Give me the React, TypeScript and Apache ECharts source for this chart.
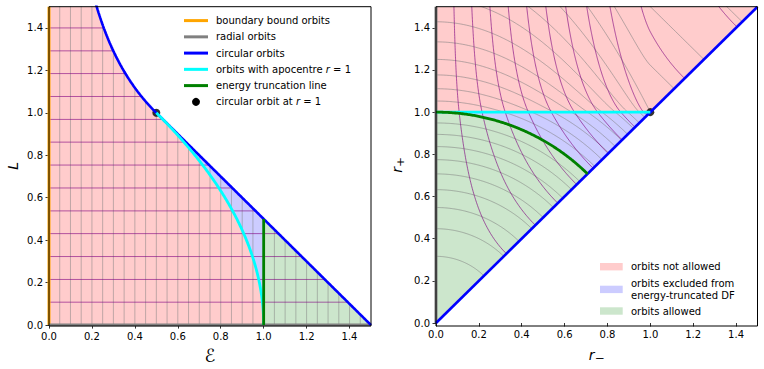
import React, { useEffect, useRef } from "react";
import * as echarts from "echarts";

// ---- data / model parameters ----
const AXIS_TICKS = [0, 0.2, 0.4, 0.6, 0.8, 1.0, 1.2, 1.4];
const AXIS_MAX = 1.5;
const TRUNC_RADIUS = 1; // apocentre limit r = 1
const ENERGY_LEVELS = [
  0.05, 0.1, 0.15, 0.2, 0.25, 0.3, 0.35, 0.4, 0.45, 0.5, 0.55, 0.6, 0.65, 0.7, 0.75,
  0.8, 0.85, 0.9, 0.95, 1.0, 1.05, 1.1, 1.15, 1.2, 1.25, 1.3, 1.35, 1.4, 1.45,
];
const ANGMOM_LEVELS = [
  0.108, 0.215, 0.323, 0.431, 0.538, 0.646, 0.754, 0.862, 0.969, 1.077, 1.185, 1.292, 1.4,
];
const LEFT_LEGEND = [
  { label: "boundary bound orbits", color: "#ffa500", kind: "line" },
  { label: "radial orbits", color: "#808080", kind: "line" },
  { label: "circular orbits", color: "#0000ff", kind: "line" },
  { label: "orbits with apocentre {i|r} = 1", color: "#00ffff", kind: "line" },
  { label: "energy truncation line", color: "#008000", kind: "line" },
  { label: "circular orbit at {i|r} = 1", color: "#000000", kind: "dot" },
];
const RIGHT_LEGEND = [
  { label: ["orbits not allowed"], color: "#ffcccc" },
  { label: ["orbits excluded from", "energy-truncated DF"], color: "#ccccff" },
  { label: ["orbits allowed"], color: "#cce6cc" },
];

// ---- potential: uniform core (r<1) + point-mass exterior ----
const psi = (r: number) => (r < 1 ? 1.5 - 0.5 * r * r : 1 / r);
const feff = (r: number, L: number) => psi(r) - (L * L) / (2 * r * r);
const rCircOfL = (L: number) => (L < 1 ? Math.sqrt(L) : L * L);
const eCircOfR = (r: number) => (r < 1 ? 1.5 - r * r : 0.5 / r);
const lCircOfR = (r: number) => (r < 1 ? r * r : Math.sqrt(r));
const rCircOfE = (E: number) => (E >= 0.5 ? Math.sqrt(1.5 - E) : 0.5 / E);
const lCircOfE = (E: number) => lCircOfR(rCircOfE(E));
const psiInv = (E: number) => (E >= 1 ? Math.sqrt(3 - 2 * E) : 1 / E);
const E_TRUNC = psi(TRUNC_RADIUS);

function bisect(fn: (x: number) => number, a: number, b: number) {
  let fa = fn(a);
  for (let i = 0; i < 80; i++) {
    const m = 0.5 * (a + b);
    const fm = fn(m);
    if ((fm > 0) === (fa > 0)) { a = m; fa = fm; } else { b = m; }
  }
  return 0.5 * (a + b);
}
function turning(E: number, L: number): [number, number] {
  if (L <= 0) return [0, psiInv(E)];
  const rc = rCircOfL(L);
  if (feff(rc, L) <= E) return [rc, rc];
  const rm = bisect((r) => feff(r, L) - E, 1e-9, rc);
  const rp = bisect((r) => feff(r, L) - E, rc, 1e4);
  return [rm, rp];
}
function isoEnergy(E: number, n = 160) {
  const Lc = lCircOfE(E);
  const pts: number[][] = [];
  for (let i = 0; i <= n; i++) {
    const s = 1 - i / n;
    pts.push(turning(E, Lc * (1 - s * s)));
  }
  return pts;
}
function isoAngMom(L: number, n = 200) {
  const rc = rCircOfL(L);
  const pts: number[][] = [];
  const rEnd = AXIS_MAX + 0.3;
  if (rc > rEnd) return pts;
  for (let i = 0; i <= n; i++) {
    const rp = rc + ((rEnd - rc) * i) / n;
    const E = feff(rp, L);
    const rm = i === 0 ? rc : bisect((r) => feff(r, L) - E, 1e-9, rc);
    pts.push([rm, rp]);
  }
  return pts;
}
function circCurve(E0: number, E1: number, n = 150) {
  const pts: number[][] = [];
  for (let i = 0; i <= n; i++) {
    const E = E0 + ((E1 - E0) * i) / n;
    pts.push([E, lCircOfE(E)]);
  }
  return pts;
}
function apoCurve(n = 150) {
  // orbits with apocentre TRUNC_RADIUS, from L=0 to circular
  const Lmax = lCircOfR(TRUNC_RADIUS);
  const pts: number[][] = [];
  for (let i = 0; i <= n; i++) {
    const L = (Lmax * i) / n;
    pts.push([psi(TRUNC_RADIUS) - (L * L) / (2 * TRUNC_RADIUS * TRUNC_RADIUS), L]);
  }
  return pts;
}

// ---- layout ----
const GT = 6.7, GH = 319.3;
const LX = 49, LW = 322;
const RX = 436, RW = 321.5;
const FONT = "DejaVu Sans";

function lineSeries(g: number, data: number[][], color: string, width: number, z: number, opacity = 1) {
  return {
    type: "line", xAxisIndex: g, yAxisIndex: g, data, showSymbol: false, symbol: "none",
    lineStyle: { color, width, opacity }, z, silent: true, clip: true,
  };
}
function polySeries(g: number, pts: number[][], color: string) {
  return {
    type: "custom", xAxisIndex: g, yAxisIndex: g, clip: true, silent: true, z: 1,
    data: [[0, 0]],
    renderItem: (_p: any, api: any) => ({
      type: "polygon",
      shape: { points: pts.map((p) => api.coord(p)) },
      style: { fill: color },
    }),
  };
}
function valueAxis(g: number, name: string, nameGap: number, nameTextStyle: any, nameRotate?: number) {
  return {
    type: "value", gridIndex: g, min: 0, max: AXIS_MAX, name, nameLocation: "middle", nameGap,
    nameRotate, nameTextStyle,
    splitLine: { show: false }, axisLine: { show: false },
    axisTick: { show: true, length: 3.5, lineStyle: { color: "#000", width: 0.8 }, customValues: AXIS_TICKS },
    axisLabel: {
      customValues: AXIS_TICKS, formatter: (v: number) => v.toFixed(1),
      fontFamily: FONT, fontSize: 10, color: "#000", margin: 6,
    },
  };
}

function buildOption() {
  const series: any[] = [];
  // ---------- left panel (E, L) ----------
  const eTop = eCircOfR(rCircOfL(AXIS_MAX));
  const eCircR1 = eCircOfR(TRUNC_RADIUS);
  const apo = apoCurve();
  const apoRev = apo.slice().reverse();
  series.push(polySeries(0, [[0, 0], [0, AXIS_MAX], ...circCurve(eTop, eCircR1), ...apoRev], "#ffcccc"));
  series.push(polySeries(0, [...circCurve(eCircR1, E_TRUNC), [E_TRUNC, 0], ...apo], "#ccccff"));
  series.push(polySeries(0, [[E_TRUNC, 0], ...circCurve(E_TRUNC, AXIS_MAX)], "#cce6cc"));
  ENERGY_LEVELS.forEach((E) => {
    series.push(lineSeries(0, [[E, 0], [E, Math.min(lCircOfE(E), AXIS_MAX + 0.1)]], "#808080", 1, 2, 0.5));
  });
  ANGMOM_LEVELS.forEach((L) => {
    series.push(lineSeries(0, [[0, L], [eCircOfR(rCircOfL(L)), L]], "#800080", 1, 2, 0.6));
  });
  series.push(lineSeries(0, [[0, 0], [0, AXIS_MAX]], "#ffa500", 3, 4));
  series.push(lineSeries(0, [[0, 0], [AXIS_MAX, 0]], "#808080", 3, 4));
  series.push(lineSeries(0, circCurve(eTop * 0.98, AXIS_MAX, 300), "#0000ff", 2.6, 4));
  series.push(lineSeries(0, apo, "#00ffff", 2.8, 5));
  series.push(lineSeries(0, [[E_TRUNC, 0], [E_TRUNC, lCircOfE(E_TRUNC)]], "#008000", 2.8, 5));
  series.push({
    type: "scatter", xAxisIndex: 0, yAxisIndex: 0, data: [[eCircOfR(TRUNC_RADIUS), lCircOfR(TRUNC_RADIUS)]],
    symbolSize: 8, itemStyle: { color: "#000" }, z: 3, silent: true,
  });

  // ---------- right panel (r-, r+) ----------
  const trunc = isoEnergy(E_TRUNC);
  const truncRev = trunc.slice().reverse();
  series.push(polySeries(1, [[0, TRUNC_RADIUS], [0, AXIS_MAX], [AXIS_MAX, AXIS_MAX], [TRUNC_RADIUS, TRUNC_RADIUS]], "#ffcccc"));
  series.push(polySeries(1, [[TRUNC_RADIUS, TRUNC_RADIUS], ...truncRev], "#ccccff"));
  series.push(polySeries(1, [[0, 0], ...trunc], "#cce6cc"));
  ENERGY_LEVELS.forEach((E) => {
    series.push(lineSeries(1, isoEnergy(E), "#808080", 0.8, 2, 0.7));
  });
  ANGMOM_LEVELS.forEach((L) => {
    const pts = isoAngMom(L);
    if (pts.length) series.push(lineSeries(1, pts, "#800080", 0.8, 2, 0.8));
  });
  series.push(lineSeries(1, [[0, 0], [0, AXIS_MAX]], "#808080", 3, 4));
  series.push(lineSeries(1, [[0, 0], [AXIS_MAX, AXIS_MAX]], "#0000ff", 2.6, 4));
  series.push(lineSeries(1, [[0, TRUNC_RADIUS], [TRUNC_RADIUS, TRUNC_RADIUS]], "#00ffff", 2.8, 5));
  series.push(lineSeries(1, trunc, "#008000", 2.8, 5));
  series.push({
    type: "scatter", xAxisIndex: 1, yAxisIndex: 1, data: [[TRUNC_RADIUS, TRUNC_RADIUS]],
    symbolSize: 8, itemStyle: { color: "#000" }, z: 3, silent: true,
  });

  // ---------- graphics: frames & legends ----------
  const graphic: any[] = [];
  [LX, RX].forEach((x, i) => {
    graphic.push({
      type: "rect", silent: true, z: 100,
      shape: { x, y: GT, width: i === 0 ? LW : RW, height: GH },
      style: { fill: "none", stroke: "#000", lineWidth: 1 },
    });
  });
  const rich = {
    i: { fontStyle: "italic", fontFamily: FONT, fontSize: 10, fill: "#000" },
  };
  LEFT_LEGEND.forEach((it, k) => {
    const y = 20.6 + k * 16.25;
    if (it.kind === "line") {
      graphic.push({ type: "line", silent: true, z: 100, shape: { x1: 184, y1: y, x2: 208, y2: y }, style: { stroke: it.color, lineWidth: 3 } });
    } else {
      graphic.push({ type: "circle", silent: true, z: 100, shape: { cx: 196, cy: y, r: 4 }, style: { fill: it.color } });
    }
    graphic.push({
      type: "text", silent: true, z: 100, x: 216, y,
      style: { text: it.label, fontFamily: FONT, fontSize: 10, fill: "#000", verticalAlign: "middle", rich },
    });
  });
  const rightYs = [266.7, 289.4, 311];
  RIGHT_LEGEND.forEach((it, k) => {
    const y = rightYs[k];
    graphic.push({ type: "rect", silent: true, z: 100, shape: { x: 600, y: y - 3.7, width: 22.7, height: 7.4 }, style: { fill: it.color } });
    it.label.forEach((line, j) => {
      const ty = it.label.length === 1 ? y : y - 6.1 + j * 12.2;
      graphic.push({
        type: "text", silent: true, z: 100, x: 631, y: ty,
        style: { text: line, fontFamily: FONT, fontSize: 10, fill: "#000", verticalAlign: "middle" },
      });
    });
  });

  const nameRich = {
    i: { fontStyle: "italic", fontFamily: FONT, fontSize: 14, color: "#000" },
    s: { fontFamily: FONT, fontSize: 19, color: "#000" },
  };

  return {
    animation: false,
    backgroundColor: "#fff",
    grid: [
      { left: LX, top: GT, width: LW, height: GH, show: false },
      { left: RX, top: GT, width: RW, height: GH, show: false },
    ],
    xAxis: [
      valueAxis(0, "ℰ", 20, { fontFamily: FONT, fontSize: 18, color: "#000" }),
      valueAxis(1, "{i|r}{s|₋}", 22, { rich: nameRich }),
    ],
    yAxis: [
      valueAxis(0, "L", 29, { fontFamily: FONT, fontStyle: "italic", fontSize: 14, color: "#000" }, 90),
      valueAxis(1, "{i|r}{s|₊}", 30, { rich: nameRich }, 90),
    ],
    series,
    graphic,
  };
}

export default function App() {
  const ref = useRef<HTMLDivElement>(null);
  useEffect(() => {
    if (!ref.current) return;
    const chart = echarts.init(ref.current, undefined, { renderer: "svg" });
    chart.setOption(buildOption() as any);
    return () => chart.dispose();
  }, []);
  return (
    <div
      ref={ref}
      style={{ position: "fixed", left: 0, top: 0, width: 764, height: 369, background: "#fff" }}
    />
  );
}
